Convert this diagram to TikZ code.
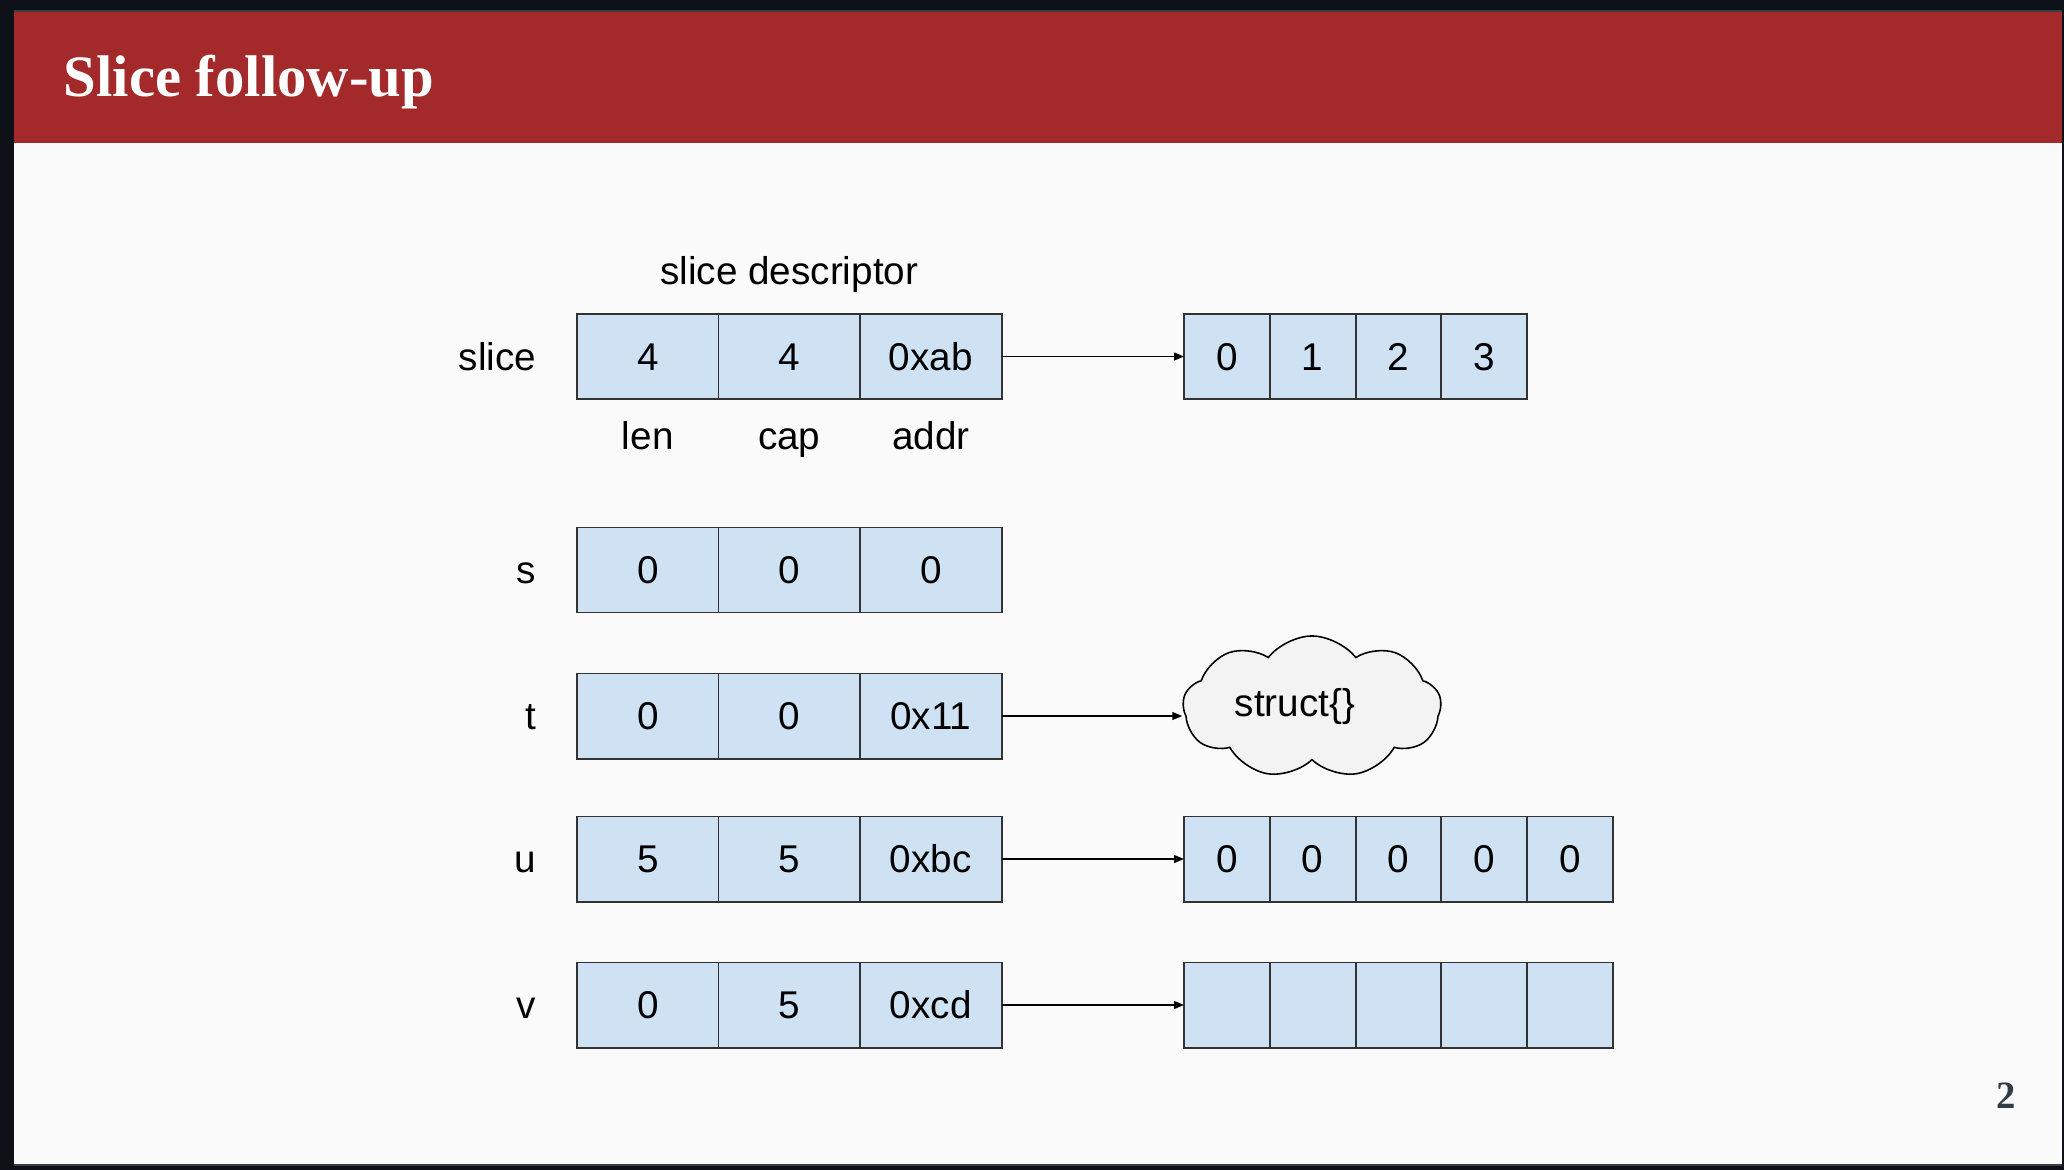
\documentclass[tikz,border=0pt]{standalone}
\usepackage{fontspec}
\setmainfont{Liberation Sans}
\newfontfamily\serifbf{Liberation Serif}
\usetikzlibrary{positioning,shapes.symbols,arrows.meta}
\definecolor{fondo}{HTML}{FAFAFA}
\definecolor{cornice}{HTML}{0D1117}
\definecolor{bordino}{HTML}{3A3F45}
\definecolor{rosso}{RGB}{164,41,42}
\definecolor{celeste}{HTML}{CFE2F3}
\definecolor{linea}{HTML}{333333}
\definecolor{grigionube}{HTML}{F3F3F3}
\definecolor{numero}{HTML}{2E3D47}
\newcommand\testo{\fontsize{11}{13}\selectfont}
\newcommand\titolo{\serifbf\bfseries\fontsize{16.7}{20}\selectfont}
\begin{document}
\begin{tikzpicture}[
			x=0.01cm, y=-0.01cm,
			cella/.style={draw=linea, fill=celeste, line width=0.55pt, minimum width=1.415cm, minimum height=0.85cm, inner sep=0pt, outer sep=0pt, font=\testo, text height=7.9pt, text depth=0pt},
			elem/.style={cella, minimum width=0.858cm},
			etich/.style={inner sep=0pt, font=\testo, text height=7.9pt, text depth=0pt},
			freccia/.style={line width=0.45pt, -{Triangle[length=2.8pt, width=2.2pt]}},
			nuvola/.style={cloud, cloud puffs=9, cloud puff arc=105, aspect=1.8, draw=black, fill=grigionube, line width=0.45pt, minimum width=2.58cm, minimum height=1.42cm, inner sep=0pt},
			]
			
			%% ── fondo ──────────────────────────────────────────────
			\fill[cornice](0,0)rectangle(2064,1170);
			\fill[bordino](14,10)rectangle(2062,1166);
			\fill[fondo](14,12)rectangle(2062,1164);
			\fill[rosso](14,12)rectangle(2062,143);
			\useasboundingbox(0,0)rectangle(2064,1170);
			\node[anchor=base west, inner sep=0pt, text=white, font=\titolo] (titolo) at (63,97) {Slice follow-up};
			\node[anchor=base, inner sep=0pt, text=numero, font=\serifbf\bfseries\fontsize{11}{13}\selectfont] (pagina) at (2006,1108) {2};
			
			%% ── descrittori ────────────────────────────────────────
			\foreach \nome/\yy/\lung/\capac/\ind in {slice/356.5/4/4/0xab, s/570/0/0/0, t/716/0/0/0x11, u/859/5/5/0xbc, v/1005/0/5/0xcd}{
				\node[cella] (\nome1) at (647.75,\yy) {\lung};
				\node[cella] (\nome2) at (789.25,\yy) {\capac};
				\node[cella] (\nome3) at (930.75,\yy) {\ind};
				\node[etich, left=0.4cm of \nome1] (lab\nome) {\nome};
			}
			\node[etich, above=0.29cm of slice2] (desc) {slice descriptor};
			\node[etich, below=0.22cm of slice1] (len) {len};
			\node[etich, below=0.22cm of slice2] (cap) {cap};
			\node[etich, below=0.22cm of slice3] (addr) {addr};
			
			%% ── array ──────────────────────────────────────────────
			\foreach \i in {0,...,3} \node[elem] (sl\i) at (1226.9+\i*85.8,356.5) {\i};
			\node[nuvola] (nube) at (1312,707) {};
			\node[etich] (structlab) at (1295,703) {struct\{\}};
			\foreach \i in {1,...,5} \node[elem] (uel\i) at (1141.1+\i*85.8,859) {0};
			\foreach \i in {1,...,5} \node[elem] (vel\i) at (1141.1+\i*85.8,1005) {};
			
			%% ── frecce ─────────────────────────────────────────────
			\draw[freccia](slice3.east)--(sl0.west);
			\draw[freccia](t3.east)--(t3.east -| nube.west);
			\draw[freccia](u3.east)--(uel1.west);
			\draw[freccia](v3.east)--(vel1.west);
			
\end{tikzpicture}
\end{document}
